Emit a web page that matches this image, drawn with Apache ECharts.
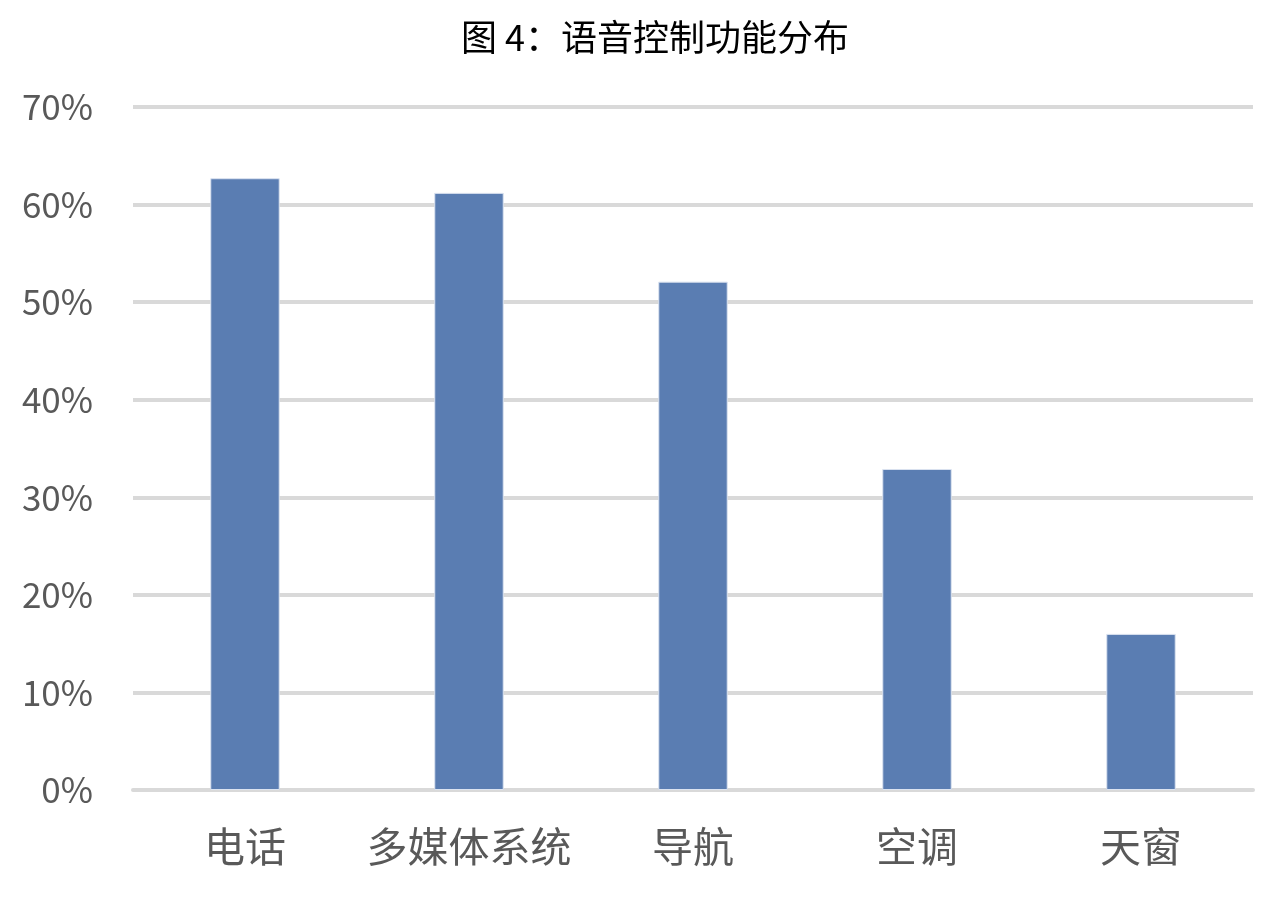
<!DOCTYPE html>
<html>
<head>
<meta charset="utf-8">
<script src="https://cdn.jsdelivr.net/npm/echarts@6/dist/echarts.min.js"></script>
<style>
	html, body { margin: 0; padding: 0; background: #fff; }
	#chart { width: 1288px; height: 900px; }
</style>
</head>
<body>
<div id="chart"></div>
<script>
// 类别
const categories = ['电话', '多媒体系统', '导航', '空调', '天窗'];
// 占比（%）
const values = [62.7, 61.2, 52.1, 32.9, 16.0];

const chart = echarts.init(document.getElementById('chart'));
const font = '"Noto Sans CJK SC", "Noto Sans", sans-serif';

chart.setOption({
	animation: false,
	title: {
		text: '图 4：语音控制功能分布',
		left: 650,
		textAlign: 'center',
		top: 14,
		textStyle: {
			fontFamily: font,
			fontSize: 36,
			fontWeight: 'normal',
			color: '#000',
		},
	},
	grid: {
		left: 133,
		right: 35,
		top: 107,
		bottom: 110,
	},
	xAxis: {
		type: 'category',
		data: categories,
		axisTick: { show: false },
		axisLine: {
			lineStyle: { color: '#d9d9d9', width: 4 },
		},
		axisLabel: {
			interval: 0,
			hideOverlap: false,
			fontFamily: font,
			fontSize: 41,
			color: '#595959',
			margin: 36,
		},
	},
	yAxis: {
		type: 'value',
		min: 0,
		max: 70,
		interval: 10,
		axisLine: { show: false },
		axisTick: { show: false },
		splitLine: {
			lineStyle: { color: '#d9d9d9', width: 4 },
		},
		axisLabel: {
			formatter: '{value}%',
			fontFamily: font,
			fontSize: 35,
			color: '#595959',
			margin: 40,
		},
	},
	series: [
		{
			type: 'bar',
			data: values,
			barWidth: '31%',
			itemStyle: {
				color: '#5a7db2',
				borderColor: '#dbe3f0',
				borderWidth: 1,
			},
		},
	],
});
</script>
</body>
</html>
